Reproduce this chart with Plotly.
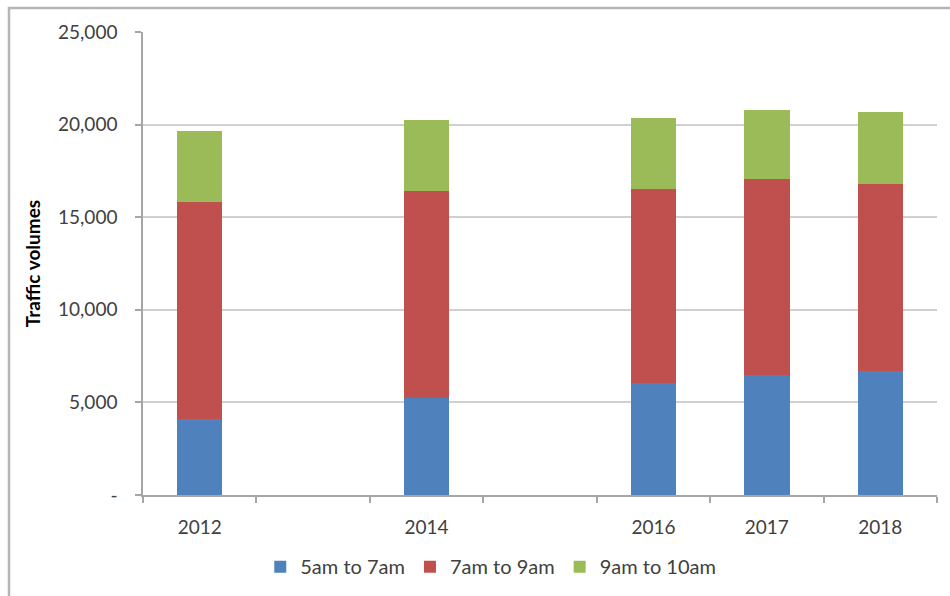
import plotly.graph_objects as go

# Morning peak traffic volumes by survey year
years = [2012, 2014, 2016, 2017, 2018]
year_labels = ["2012", "2014", "2016", "2017", "2018"]
am_5_7 = [4100, 5230, 6040, 6500, 6720]
am_7_9 = [11700, 11200, 10470, 10560, 10060]
am_9_10 = [3850, 3840, 3870, 3710, 3890]

series_names = ["5am to 7am", "7am to 9am", "9am to 10am"]
series_colors = ["#4F81BD", "#C0504D", "#9BBB59"]

y_ticks = [0, 5000, 10000, 15000, 20000, 25000]
y_tick_text = ["-", "5,000", "10,000", "15,000", "20,000", "25,000"]

font_family = "Lato, 'Open Sans', sans-serif"

fig = go.Figure()
for name, vals, col in zip(series_names, [am_5_7, am_7_9, am_9_10], series_colors):
    fig.add_trace(go.Bar(
        x=years, y=vals, name=name, width=0.4,
        marker=dict(color=col, line=dict(width=0)),
    ))

fig.update_layout(
    barmode="stack",
    width=950, height=596,
    margin=dict(l=143, r=13, t=32, b=101, autoexpand=False),
    paper_bgcolor="white", plot_bgcolor="white",
    font=dict(family=font_family, color="#404040", size=18),
    showlegend=True,
    legend=dict(
        orientation="h", x=0.438, xanchor="center",
        yref="container", y=0.082, yanchor="top",
        font=dict(size=20, color="#404040"), itemwidth=30,
        traceorder="normal",
    ),
    xaxis=dict(
        range=[2011.5, 2018.5],
        tickmode="array", tickvals=years, ticktext=year_labels,
        ticks="", showgrid=False, automargin=False,
        showline=True, linecolor="#a6a6a6", linewidth=1.5,
        tickfont=dict(size=19, color="#404040"),
        ticklabelstandoff=14,
        minor=dict(
            tickmode="array",
            tickvals=[2011.5, 2012.5, 2013.5, 2014.5, 2015.5, 2016.5, 2017.5, 2018.5],
            ticks="outside", ticklen=6, tickcolor="#a6a6a6", tickwidth=1.5,
            showgrid=False,
        ),
        zeroline=False,
    ),
    yaxis=dict(
        range=[0, 25000], automargin=False,
        tickmode="array", tickvals=y_ticks, ticktext=y_tick_text,
        ticks="outside", ticklen=6, tickcolor="#a6a6a6", tickwidth=1.5,
        ticklabelstandoff=14,
        showgrid=True, gridcolor="#d0d0d0", gridwidth=1.5,
        showline=True, linecolor="#a6a6a6", linewidth=1.5,
        zeroline=False,
        tickfont=dict(size=19, color="#404040"),
        title=dict(text="<b>Traffic volumes</b>", font=dict(size=19, color="#000000"), standoff=12),
    ),
    shapes=[
        dict(type="rect", xref="paper", yref="paper",
             x0=(9 - 143) / 794, x1=1.2, y0=-0.5, y1=(495 - 8) / 463,
             line=dict(color="#b5b5b5", width=2.5), fillcolor="rgba(0,0,0,0)",
             layer="below"),
    ],
)

fig.write_html("out.html")
